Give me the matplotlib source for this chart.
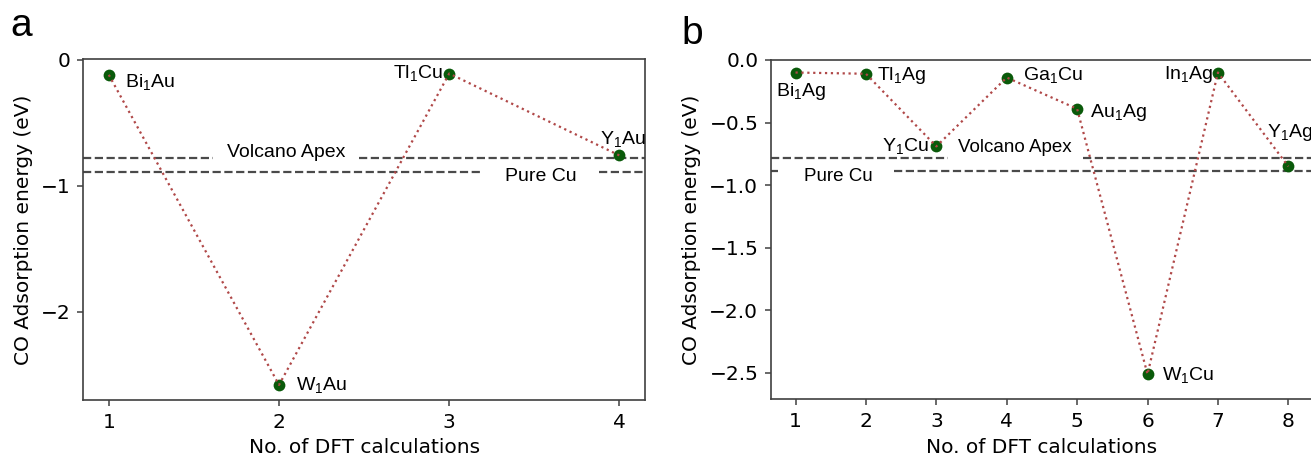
import matplotlib
matplotlib.use("Agg")
import matplotlib.pyplot as plt

# ---------------- data ----------------
calc_a = [1, 2, 3, 4]
energy_a = [-0.12, -2.58, -0.11, -0.76]
labels_a = ["Bi$_1$Au", "W$_1$Au", "Tl$_1$Cu", "Y$_1$Au"]

calc_b = [1, 2, 3, 4, 5, 6, 7, 8]
energy_b = [-0.10, -0.11, -0.69, -0.14, -0.39, -2.51, -0.10, -0.85]
labels_b = ["Bi$_1$Ag", "Tl$_1$Ag", "Y$_1$Cu", "Ga$_1$Cu", "Au$_1$Ag",
            "W$_1$Cu", "In$_1$Ag", "Y$_1$Ag"]

volcano_apex = -0.78
pure_cu = -0.89

# ---------------- style ----------------
plt.rcParams["font.family"] = ["DejaVu Sans"]
plt.rcParams["mathtext.fontset"] = "custom"
plt.rcParams["mathtext.rm"] = "Liberation Sans"
plt.rcParams["mathtext.it"] = "Liberation Sans:italic"
plt.rcParams["mathtext.bf"] = "Liberation Sans:bold"

ANN_FONT = "Liberation Sans"
ANN_SIZE = 14
TICK_SIZE = 14.5
LABEL_SIZE = 14.5
PT_COLOR = "#0a5a0a"
LINE_COLOR = "#b04848"
DASH_COLOR = "#4a4a4a"
SPINE_COLOR = "#404040"

fig = plt.figure(figsize=(13.11, 4.58), dpi=100)
ax_a = fig.add_axes([0.0635, 0.1266, 0.4285, 0.7445])
ax_b = fig.add_axes([0.588, 0.1282, 0.4135, 0.7408])


def style_axes(ax):
    for sp in ax.spines.values():
        sp.set_color(SPINE_COLOR)
        sp.set_linewidth(1.2)
    ax.tick_params(axis="both", labelsize=TICK_SIZE, length=4, width=1.1,
                   color=SPINE_COLOR, direction="out", pad=5)
    ax.set_xlabel("No. of DFT calculations", fontsize=LABEL_SIZE, labelpad=5)
    ax.set_ylabel("CO Adsorption energy (eV)", fontsize=LABEL_SIZE, labelpad=6)


def draw(ax, xs, ys):
    ax.scatter(xs, ys, s=72, color=PT_COLOR, zorder=3, linewidths=0)
    ax.plot(xs, ys, linestyle=":", color=LINE_COLOR, linewidth=1.6, zorder=4)


def label(ax, x, y, txt, dx, dy, ha, size=ANN_SIZE):
    ax.annotate(txt, (x, y), xytext=(dx, dy), textcoords="offset pixels",
                ha=ha, va="center", fontsize=size, family=ANN_FONT, zorder=5)


# ---------------- panel a ----------------
ax = ax_a
style_axes(ax)
ax.set_xlim(0.85, 4.15)
ax.set_ylim(-2.70, 0.005)
ax.set_xticks(calc_a)
ax.set_yticks([0, -1, -2])
ax.hlines(volcano_apex, 0.85, 1.61, colors=DASH_COLOR, linestyles="--", linewidth=1.6, zorder=2)
ax.hlines(volcano_apex, 2.47, 4.15, colors=DASH_COLOR, linestyles="--", linewidth=1.6, zorder=2)
ax.hlines(pure_cu, 0.85, 3.19, colors=DASH_COLOR, linestyles="--", linewidth=1.6, zorder=2)
ax.hlines(pure_cu, 3.88, 4.15, colors=DASH_COLOR, linestyles="--", linewidth=1.6, zorder=2)
ax.text(2.04, -0.74, "Volcano Apex", ha="center", va="center", fontsize=14, family=ANN_FONT)
ax.text(3.536, -0.93, "Pure Cu", ha="center", va="center", fontsize=14, family=ANN_FONT)
draw(ax, calc_a, energy_a)
offs_a = [(16, -7, "left"), (17, 0, "left"), (-6, 1, "right"), (3, 16, "center")]
for x, y, t, (dx, dy, ha) in zip(calc_a, energy_a, labels_a, offs_a):
    label(ax, x, y, t, dx, dy, ha)

# ---------------- panel b ----------------
ax = ax_b
style_axes(ax)
ax.set_xlim(0.65, 8.35)
ax.set_ylim(-2.71, 0.0)
ax.set_xticks(calc_b)
ax.set_yticks([0.0, -0.5, -1.0, -1.5, -2.0, -2.5])
ax.set_yticklabels(["0.0", "\u22120.5", "\u22121.0", "\u22121.5", "\u22122.0", "\u22122.5"])
ax.hlines(volcano_apex, 0.65, 3.17, colors=DASH_COLOR, linestyles="--", linewidth=1.6, zorder=2)
ax.hlines(volcano_apex, 5.08, 8.35, colors=DASH_COLOR, linestyles="--", linewidth=1.6, zorder=2)
ax.hlines(pure_cu, 0.65, 0.75, colors=DASH_COLOR, linestyles="--", linewidth=1.6, zorder=2)
ax.hlines(pure_cu, 2.40, 8.35, colors=DASH_COLOR, linestyles="--", linewidth=1.6, zorder=2)
ax.text(4.11, -0.70, "Volcano Apex", ha="center", va="center", fontsize=13.5, family=ANN_FONT)
ax.text(1.61, -0.93, "Pure Cu", ha="center", va="center", fontsize=13.5, family=ANN_FONT)
draw(ax, calc_b, energy_b)
offs_b = [(6, -19, "center"), (11, -2, "left"), (-7, 0, "right"), (16, 3, "left"),
          (13, -4, "left"), (14, -1, "left"), (-5, -2, "right"), (2, 34, "center")]
for x, y, t, (dx, dy, ha) in zip(calc_b, energy_b, labels_b, offs_b):
    label(ax, x, y, t, dx, dy, ha)

# panel letters
fig.text(10 / 1311, 1 - 36 / 458, "a", fontsize=28, family=ANN_FONT, va="baseline", ha="left")
fig.text(681 / 1311, 1 - 44 / 458, "b", fontsize=28, family=ANN_FONT, va="baseline", ha="left")

fig.savefig("out.png", dpi=100)
